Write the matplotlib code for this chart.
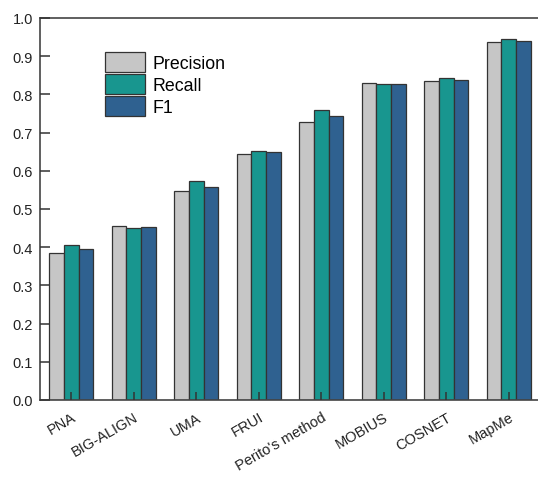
import numpy as np
import matplotlib
matplotlib.use("Agg")
import matplotlib.pyplot as plt

plt.rcParams['font.family'] = ['Liberation Sans', 'DejaVu Sans']

# Alignment methods and their scores
methods = ['PNA', 'BIG-ALIGN', 'UMA', 'FRUI', "Perito's method",
           'MOBIUS', 'COSNET', 'MapMe']
precision = [0.386, 0.455, 0.546, 0.644, 0.728, 0.829, 0.835, 0.938]
recall = [0.405, 0.450, 0.572, 0.653, 0.760, 0.827, 0.844, 0.946]
f1 = [0.395, 0.452, 0.558, 0.648, 0.743, 0.828, 0.838, 0.941]

series = [('Precision', precision, '#c6c6c6'),
          ('Recall', recall, '#18968f'),
          ('F1', f1, '#2f6190')]

fig = plt.figure(figsize=(5.38, 4.81), dpi=100)
# axes run past the right edge so the right spine is cut off
ax = fig.add_axes([40 / 538, 80 / 481, 500 / 538, 382 / 481])

x = np.arange(len(methods))
w = 0.235
for i, (name, vals, col) in enumerate(series):
    ax.bar(x + (i - 1) * w, vals, w, color=col, edgecolor='#333333',
           linewidth=0.9, label=name, zorder=2)
ax.set_axisbelow(False)

ax.set_xlim(-0.5, len(methods) - 0.5)
ax.set_ylim(0, 1.0)
ax.set_yticks(np.arange(0, 1.01, 0.1))
ax.set_yticklabels([f'{v:.1f}' for v in np.arange(0, 1.01, 0.1)])
ax.set_xticks(x)
ax.set_xticklabels(methods, rotation=30, ha='right', va='top',
                   rotation_mode='anchor')

ax.tick_params(axis='both', direction='in', length=7, width=1.1,
               colors='#333333', labelsize=10.5, labelcolor='#222222')
ax.tick_params(axis='x', length=6, pad=7)
ax.tick_params(axis='y', pad=5)
for side in ['left', 'bottom', 'top']:
    ax.spines[side].set_color('#444444')
    ax.spines[side].set_linewidth(1.2)
ax.spines['right'].set_visible(False)

ax.legend(loc='upper left', bbox_to_anchor=(0.13, 0.912), frameon=False,
          fontsize=12.8, borderpad=0, borderaxespad=0, handlelength=2.25,
          handleheight=1.35, handletextpad=0.4, labelspacing=0.12)

fig.savefig('out.png', dpi=100)
